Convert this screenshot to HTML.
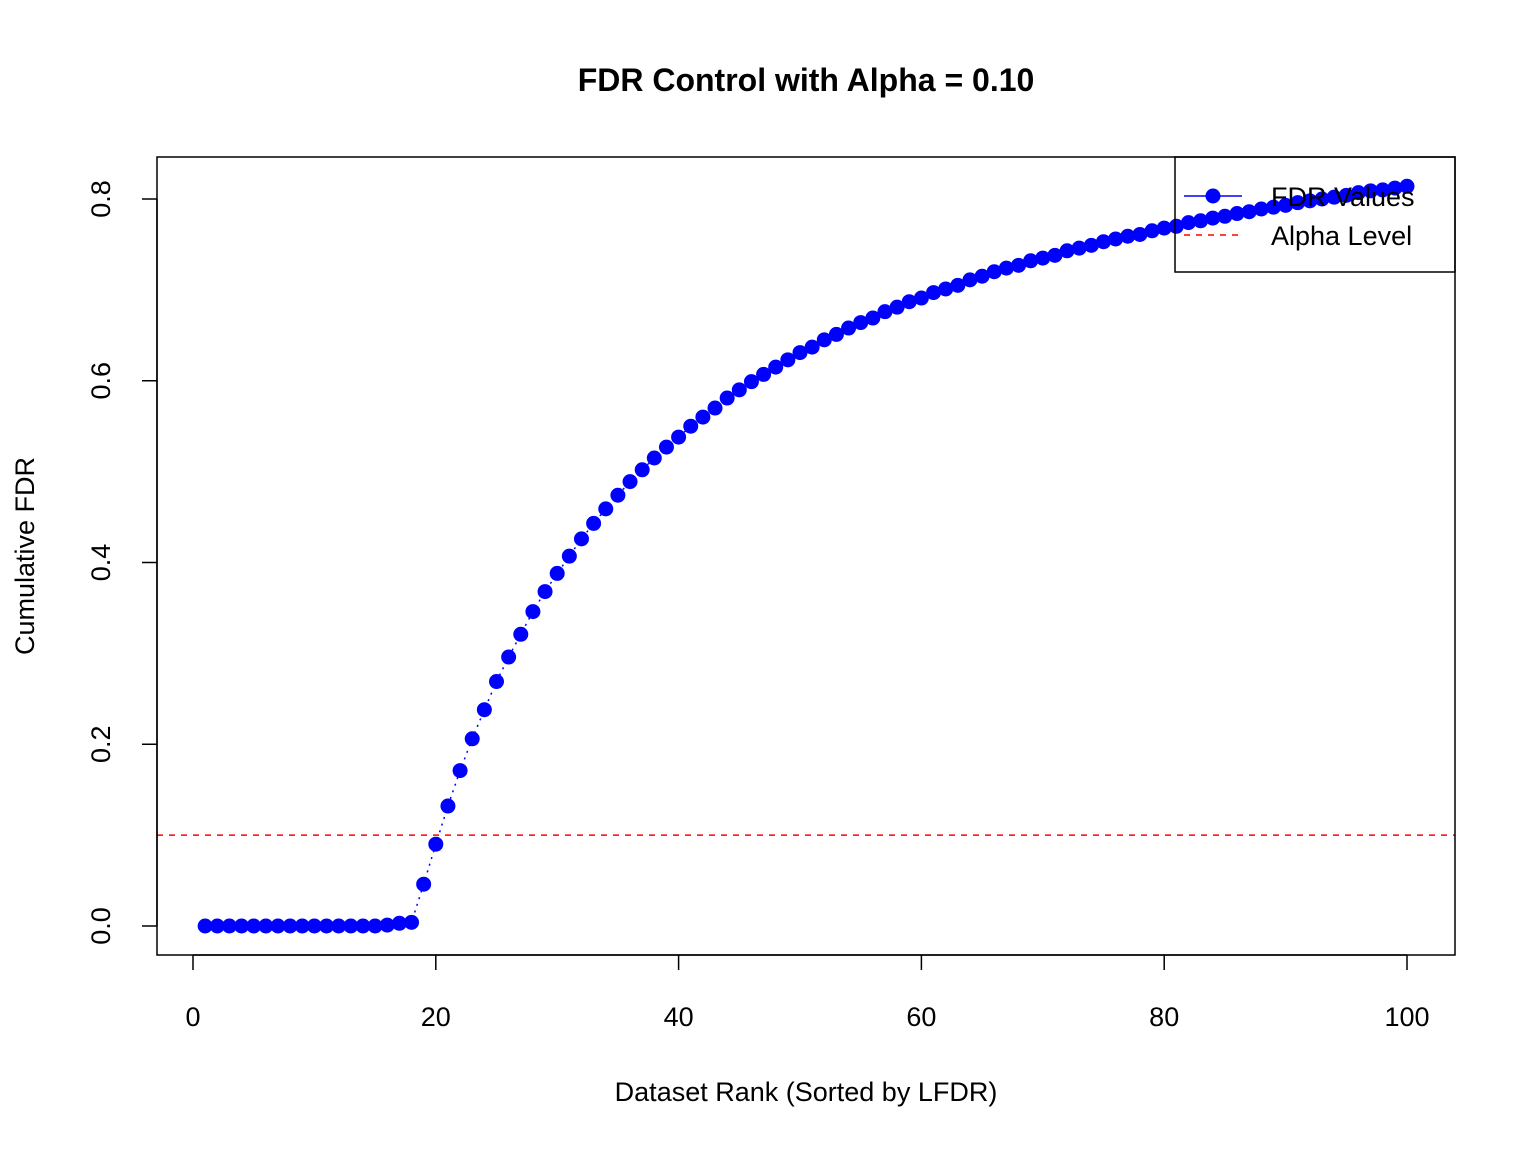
<!DOCTYPE html>
<html><head><meta charset="utf-8"><style>html,body{margin:0;padding:0;background:#fff}svg{display:block}text{font-family:"Liberation Sans",sans-serif}</style></head>
<body>
<svg id="chart" width="1536" height="1152" xmlns="http://www.w3.org/2000/svg">
<text x="806" y="91" font-size="32" font-weight="bold" text-anchor="middle">FDR Control with Alpha = 0.10</text>
<g id="marks"></g>
<rect x="157" y="157" width="1298" height="798" fill="none" stroke="#000" stroke-width="1.5"/>
<g id="axes"></g>
<text x="806" y="1101" font-size="27" text-anchor="middle">Dataset Rank (Sorted by LFDR)</text>
<text transform="translate(34,556) rotate(-90)" font-size="27" text-anchor="middle">Cumulative FDR</text>
<g>
<rect x="1175" y="157" width="280" height="115" fill="none" stroke="#000" stroke-width="1.5"/>
<g>
<line x1="1184" y1="196" x2="1242" y2="196" stroke="#0000ff" stroke-width="1.5"/>
<circle cx="1213" cy="196" r="7.5" fill="#0000ff"/>
<text x="1271" y="206" font-size="27">FDR Values</text></g>
<g>
<line x1="1184" y1="235" x2="1242" y2="235" stroke="#ff0000" stroke-width="1.5" stroke-dasharray="6,6"/>
<text x="1271" y="245" font-size="27">Alpha Level</text></g>
</g>
</svg>
<script>
const ranks = Array.from({length:100},(_,i)=>i+1);
const fdrValues = [0,0,0,0,0,0,0,0,0,0,0,0,0,0,0,0.001,0.003,0.004,0.046,0.090,
0.132,0.171,0.206,0.238,0.269,0.296,0.321,0.346,0.368,0.388,
0.407,0.426,0.443,0.459,0.474,0.489,0.502,0.515,0.527,0.538,
0.550,0.560,0.570,0.581,0.590,0.599,0.607,0.615,0.623,0.631,
0.637,0.645,0.651,0.658,0.664,0.669,0.676,0.681,0.687,0.691,
0.697,0.701,0.705,0.711,0.715,0.720,0.724,0.727,0.732,0.735,
0.738,0.743,0.746,0.749,0.753,0.756,0.759,0.761,0.765,0.768,
0.770,0.774,0.776,0.779,0.781,0.784,0.786,0.789,0.791,0.793,
0.796,0.798,0.800,0.802,0.804,0.807,0.809,0.810,0.812,0.814];
const alpha = 0.10;
const xTicks = [0,20,40,60,80,100];
const yTicks = [0.0,0.2,0.4,0.6,0.8];
const yTickLabels = ["0.0","0.2","0.4","0.6","0.8"];

const NS="http://www.w3.org/2000/svg";
const X = v => 193 + v*12.14;
const Y = v => 926 - v*908.75;
const marks=document.getElementById('marks'), axes=document.getElementById('axes');
function mk(tag,attrs,parent){const e=document.createElementNS(NS,tag);for(const k in attrs)e.setAttribute(k,attrs[k]);parent.appendChild(e);return e;}

const al=mk('line',{x1:157,x2:1455,y1:Y(alpha),y2:Y(alpha),stroke:'#ff0000','stroke-width':1.5,'stroke-dasharray':'6,6'},marks);



const pl=mk('polyline',{points:ranks.map((r,i)=>X(r)+','+Y(fdrValues[i])).join(' '),fill:'none',stroke:'#0000ff','stroke-width':1.5,'stroke-dasharray':'2,5'},marks);


ranks.forEach((r,i)=>{
  const c=mk('circle',{cx:X(r),cy:Y(fdrValues[i]),r:7.5,fill:'#0000ff'},marks);
  
  
});

const xa=mk('line',{x1:X(0),x2:X(100),y1:955,y2:955,stroke:'#000','stroke-width':1.5},axes);


xTicks.forEach(t=>{
  const l=mk('line',{x1:X(t),x2:X(t),y1:955,y2:970,stroke:'#000','stroke-width':1.5},axes);
  
  
  const tx=mk('text',{x:X(t),y:1026,'font-size':27,'text-anchor':'middle'},axes);
  tx.textContent=t;
  
  
});
const ya=mk('line',{x1:157,x2:157,y1:Y(0),y2:Y(0.8),stroke:'#000','stroke-width':1.5},axes);


yTicks.forEach((t,i)=>{
  const l=mk('line',{x1:142,x2:157,y1:Y(t),y2:Y(t),stroke:'#000','stroke-width':1.5},axes);
  
  
  const tx=mk('text',{transform:`translate(110,${Y(t)}) rotate(-90)`,'font-size':27,'text-anchor':'middle'},axes);
  tx.textContent=yTickLabels[i];
  
  
});
</script>
</body></html>
